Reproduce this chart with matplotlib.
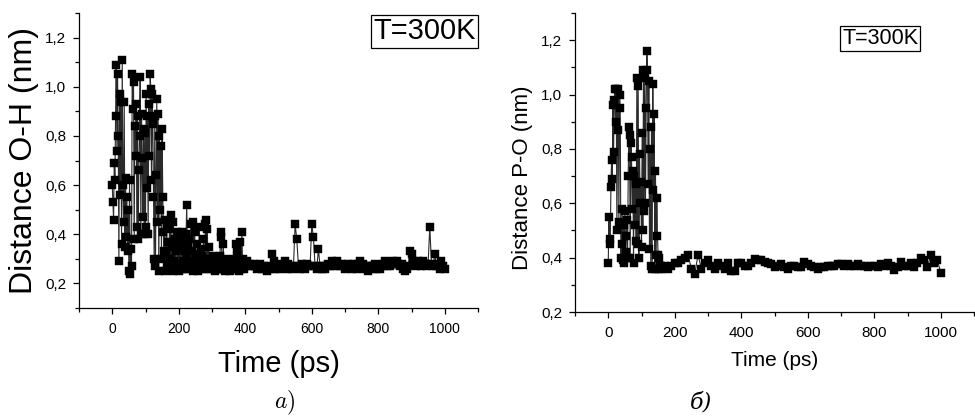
import numpy as np
import matplotlib
matplotlib.use("Agg")
import matplotlib.pyplot as plt
from matplotlib.ticker import MultipleLocator, FuncFormatter

plt.rcParams['font.family'] = ['Liberation Sans', 'DejaVu Sans']
plt.rcParams['mathtext.fontset'] = 'cm'

# ---------------- data: panel a) O-H distance ----------------
oh_t_dense = np.arange(0, 400, 2)
oh_t_sparse = np.arange(400, 1001, 5)
oh_time = np.concatenate([oh_t_dense, oh_t_sparse])

oh_vals = [
    # 0-158
    0.60, 0.53, 0.46, 0.69, 0.62, 0.88, 1.09, 0.74, 1.05, 0.80,
    0.29, 0.97, 0.56, 0.94, 0.36, 1.11, 0.60, 0.45, 0.94, 0.35,
    0.63, 0.39, 0.55, 0.33, 0.50, 0.25, 0.62, 0.24, 0.34, 0.27,
    1.05, 0.91, 1.02, 0.38, 0.84, 0.72, 0.93, 0.43, 0.88, 0.38,
    0.66, 0.80, 1.04, 0.40, 0.89, 0.71, 0.47, 0.83, 0.40, 0.81,
    0.43, 0.97, 0.59, 0.88, 0.40, 0.93, 0.72, 1.05, 0.99, 0.62,
    0.97, 0.85, 0.55, 0.30, 0.88, 0.27, 0.64, 0.95, 0.45, 0.89,
    0.25, 0.80, 0.50, 0.76, 0.30, 0.83, 0.55, 0.41, 0.33, 0.46,
    # 160-398
    0.25, 0.32, 0.43, 0.28, 0.37, 0.26, 0.42, 0.30, 0.48, 0.27,
    0.35, 0.25, 0.45, 0.29, 0.38, 0.26, 0.33, 0.41, 0.27, 0.36,
    0.25, 0.39, 0.28, 0.34, 0.26, 0.41, 0.29, 0.37, 0.26, 0.33,
    0.27, 0.40, 0.52, 0.30, 0.35, 0.26, 0.38, 0.28, 0.44, 0.27,
    0.33, 0.25, 0.45, 0.29, 0.41, 0.26, 0.32, 0.27, 0.36, 0.25,
    0.30, 0.43, 0.28, 0.34, 0.26, 0.31, 0.27, 0.38, 0.26, 0.29,
    0.44, 0.46, 0.28, 0.42, 0.27, 0.35, 0.26, 0.30, 0.27, 0.28,
    0.26, 0.31, 0.27, 0.29, 0.25, 0.28, 0.30, 0.26, 0.28, 0.27,
    0.29, 0.26, 0.31, 0.41, 0.39, 0.28, 0.26, 0.36, 0.27, 0.25,
    0.29, 0.27, 0.30, 0.26, 0.28, 0.27, 0.29, 0.25, 0.28, 0.27,
    0.29, 0.26, 0.28, 0.27, 0.30, 0.26, 0.36, 0.31, 0.34, 0.27,
    0.25, 0.28, 0.37, 0.26, 0.29, 0.41, 0.27, 0.30, 0.26, 0.28,
    # 400-1000
    0.28, 0.29, 0.27, 0.28, 0.27, 0.28, 0.27, 0.26, 0.27, 0.28,
    0.26, 0.27, 0.26, 0.25, 0.27, 0.26, 0.32, 0.29, 0.26, 0.27,
    0.26, 0.27, 0.28, 0.27, 0.29, 0.26, 0.28, 0.27, 0.26, 0.27,
    0.44, 0.38, 0.27, 0.26, 0.28, 0.27, 0.26, 0.28, 0.27, 0.27,
    0.44, 0.39, 0.27, 0.26, 0.34, 0.27, 0.26, 0.27, 0.26, 0.27,
    0.28, 0.27, 0.29, 0.28, 0.27, 0.29, 0.28, 0.27, 0.28, 0.27,
    0.26, 0.27, 0.28, 0.27, 0.26, 0.28, 0.27, 0.26, 0.28, 0.29,
    0.27, 0.28, 0.26, 0.27, 0.25, 0.27, 0.26, 0.27, 0.28, 0.26,
    0.27, 0.26, 0.27, 0.28, 0.29, 0.27, 0.28, 0.27, 0.28, 0.29,
    0.28, 0.29, 0.28, 0.27, 0.28, 0.26, 0.25, 0.26, 0.27, 0.33,
    0.32, 0.29, 0.28, 0.27, 0.29, 0.28, 0.27, 0.29, 0.28, 0.27,
    0.28, 0.43, 0.28, 0.27, 0.32, 0.27, 0.28, 0.26, 0.29, 0.27,
    0.26,
]

# ---------------- data: panel б) P-O distance ----------------
po_t_dense = np.arange(0, 160, 2)
po_t_sparse = np.arange(160, 1001, 10)
po_time = np.concatenate([po_t_dense, po_t_sparse])

po_vals = [
    # 0-158
    0.38, 0.55, 0.47, 0.45, 0.66, 0.76, 0.69, 0.96, 0.79, 0.98,
    1.02, 0.90, 1.02, 0.50, 0.87, 1.02, 0.53, 1.00, 0.95, 0.40,
    0.45, 0.58, 0.39, 0.52, 0.38, 0.57, 0.42, 0.48, 0.54, 0.40,
    0.70, 0.88, 0.85, 0.40, 0.82, 0.77, 0.58, 0.72, 0.38, 0.70,
    0.52, 0.67, 0.46, 1.06, 0.45, 1.03, 0.40, 0.78, 0.60, 0.68,
    0.44, 0.86, 0.50, 1.09, 0.57, 1.06, 0.60, 0.95, 1.16, 1.09,
    0.67, 1.05, 0.43, 0.80, 0.37, 0.88, 0.36, 1.04, 0.65, 0.93,
    0.36, 0.72, 0.41, 0.62, 0.48, 0.41, 0.36, 0.40, 0.37, 0.36,
    # 160-1000
    0.37, 0.37, 0.36, 0.37, 0.38, 0.38, 0.39, 0.40, 0.41, 0.36,
    0.34, 0.41, 0.36, 0.38, 0.39, 0.37, 0.36, 0.38, 0.37, 0.36,
    0.38, 0.35, 0.35, 0.38, 0.38, 0.37, 0.37, 0.38, 0.395, 0.39,
    0.39, 0.385, 0.38, 0.375, 0.365, 0.37, 0.375, 0.365, 0.36, 0.37,
    0.37, 0.365, 0.365, 0.385, 0.375, 0.37, 0.365, 0.36, 0.365, 0.365,
    0.37, 0.37, 0.37, 0.375, 0.375, 0.37, 0.375, 0.37, 0.37, 0.375,
    0.37, 0.37, 0.365, 0.37, 0.37, 0.365, 0.375, 0.37, 0.38, 0.37,
    0.355, 0.365, 0.385, 0.37, 0.37, 0.38, 0.365, 0.38, 0.40, 0.39,
    0.365, 0.41, 0.38, 0.39, 0.345,
]

x_ticks = [0, 200, 400, 600, 800, 1000]
label_a = r"$a)$"
label_b = "б)"

W, H = 975, 416
fig = plt.figure(figsize=(W / 100, H / 100), dpi=100)

ax1 = fig.add_axes([79 / W, 1 - 308 / H, (478 - 79) / W, (308 - 13) / H])
ax2 = fig.add_axes([575 / W, 1 - 312 / H, (974 - 575) / W, (312 - 13) / H])

comma = FuncFormatter(lambda v, p: f"{v:.1f}".replace(".", ","))

def style(ax, ylim, xsize, ysize):
    for s in ("top", "right"):
        ax.spines[s].set_visible(False)
    for s in ("left", "bottom"):
        ax.spines[s].set_linewidth(0.9)
    ax.set_xlim(-100, 1100)
    ax.set_ylim(*ylim)
    ax.set_xticks(x_ticks)
    ax.xaxis.set_minor_locator(MultipleLocator(100))
    ax.yaxis.set_major_locator(MultipleLocator(0.2))
    ax.yaxis.set_minor_locator(MultipleLocator(0.1))
    ax.yaxis.set_major_formatter(comma)
    ax.tick_params(which="both", direction="out", width=0.9)
    ax.tick_params(which="major", length=4)
    ax.tick_params(which="minor", length=3)
    ax.tick_params(axis="x", labelsize=xsize, pad=6)
    ax.tick_params(axis="y", labelsize=ysize, pad=5)

style(ax1, (0.1, 1.3), 10, 11)
style(ax2, (0.2, 1.3), 11, 11)

for ax, t, v in ((ax1, oh_time, oh_vals), (ax2, po_time, po_vals)):
    ax.plot(t, v, color="#2a2a2a", lw=0.8, marker="s", ms=5.5,
            mfc="black", mec="black", mew=0.3, clip_on=False)

ax1.set_xlabel("Time (ps)", fontsize=21, labelpad=10)
ax1.set_ylabel("Distance O-H (nm)", fontsize=23)
ax1.yaxis.set_label_coords(-0.10, 0.5)

ax2.set_xlabel("Time (ps)", fontsize=15, labelpad=8)
ax2.set_ylabel("Distance P-O (nm)", fontsize=16)
ax2.yaxis.set_label_coords(-0.105, 0.45)

ax1.text(0.995, 0.985, "T=300K", transform=ax1.transAxes, ha="right", va="top",
         fontsize=21,
         bbox=dict(boxstyle="square,pad=0.08", fc="white", ec="black", lw=0.9))
ax2.text(0.86, 0.95, "T=300K", transform=ax2.transAxes, ha="right", va="top",
         fontsize=15.5,
         bbox=dict(boxstyle="square,pad=0.1", fc="white", ec="black", lw=0.9))

fig.text(285 / W, 1 - 403 / H, label_a, fontsize=17, ha="center", va="center")
fig.text(701 / W, 1 - 402 / H, label_b, fontsize=16, ha="center", va="center",
         family="DejaVu Serif", style="italic")

fig.savefig("out.png", dpi=100)
